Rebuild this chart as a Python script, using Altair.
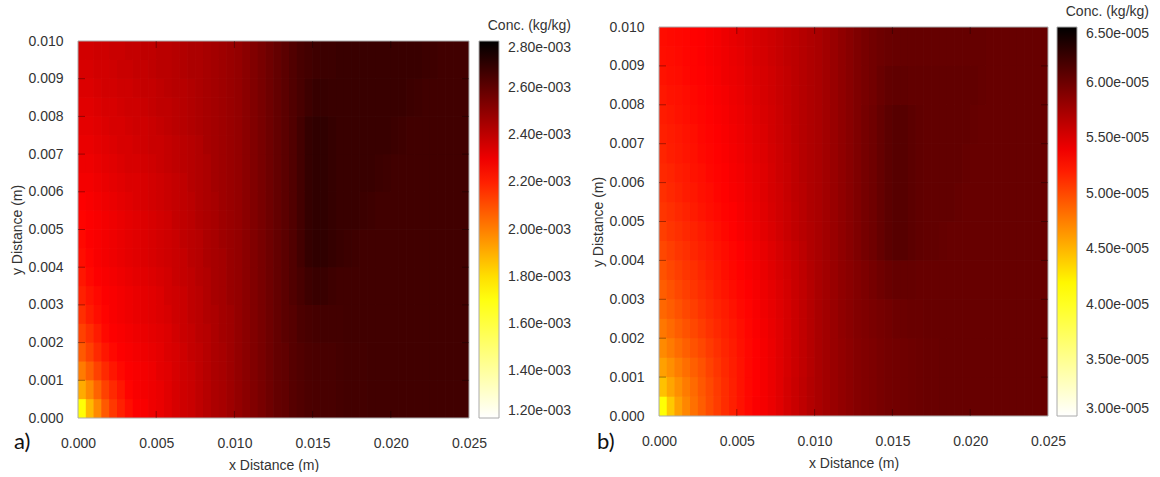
import altair as alt
import pandas as pd

# ---------------- grids (m) ----------------
# left part (x 0 - 0.010): 0.0005 x 0.0005 cells; right part (x 0.010 - 0.025): 0.0005 x 0.001 cells
XL_EDGES = [round(i * 0.0005, 4) for i in range(21)]
YL_EDGES = [round(j * 0.0005, 4) for j in range(21)]
XR_EDGES = [round(0.010 + i * 0.0005, 4) for i in range(31)]
YR_EDGES = [0.0, 0.001, 0.002, 0.003, 0.004, 0.005, 0.006, 0.007, 0.008, 0.009, 0.010]
X_LABELS = [0.000, 0.005, 0.010, 0.015, 0.020, 0.025]
Y_LABELS = [0.000, 0.001, 0.002, 0.003, 0.004, 0.005, 0.006, 0.007, 0.008, 0.009, 0.010]
X_TICKS = [0.005, 0.010, 0.015, 0.020]
Y_TICKS = [0.001, 0.002, 0.003, 0.004, 0.005, 0.006, 0.007, 0.008, 0.009]

# ---------------- panel a: concentration (x 1e-3 kg/kg), rows bottom -> top ----------------
A_LEFT = [
    [1.72, 1.88, 1.98, 2.08, 2.15, 2.20, 2.24, 2.27, 2.28, 2.30, 2.31, 2.33, 2.35, 2.37, 2.38, 2.40, 2.42, 2.44, 2.45, 2.47],
    [1.91, 1.98, 2.06, 2.13, 2.18, 2.22, 2.26, 2.28, 2.29, 2.30, 2.31, 2.33, 2.35, 2.37, 2.38, 2.40, 2.42, 2.44, 2.45, 2.47],
    [2.01, 2.07, 2.13, 2.18, 2.22, 2.25, 2.27, 2.28, 2.29, 2.30, 2.32, 2.33, 2.35, 2.37, 2.38, 2.40, 2.42, 2.44, 2.45, 2.47],
    [2.08, 2.13, 2.18, 2.22, 2.25, 2.27, 2.28, 2.29, 2.30, 2.31, 2.32, 2.34, 2.35, 2.37, 2.39, 2.40, 2.42, 2.44, 2.45, 2.47],
    [2.13, 2.17, 2.21, 2.25, 2.27, 2.28, 2.29, 2.30, 2.31, 2.32, 2.33, 2.34, 2.36, 2.38, 2.39, 2.41, 2.42, 2.44, 2.46, 2.47],
    [2.17, 2.21, 2.24, 2.26, 2.28, 2.29, 2.30, 2.31, 2.32, 2.33, 2.34, 2.35, 2.37, 2.38, 2.40, 2.41, 2.43, 2.44, 2.46, 2.47],
    [2.20, 2.23, 2.25, 2.27, 2.28, 2.29, 2.30, 2.31, 2.32, 2.33, 2.34, 2.36, 2.37, 2.38, 2.40, 2.41, 2.43, 2.45, 2.46, 2.48],
    [2.22, 2.25, 2.27, 2.28, 2.29, 2.30, 2.31, 2.32, 2.33, 2.34, 2.35, 2.36, 2.38, 2.39, 2.40, 2.42, 2.43, 2.45, 2.46, 2.48],
    [2.24, 2.26, 2.28, 2.29, 2.30, 2.31, 2.32, 2.33, 2.34, 2.35, 2.36, 2.37, 2.38, 2.39, 2.41, 2.42, 2.44, 2.45, 2.46, 2.48],
    [2.25, 2.27, 2.28, 2.29, 2.30, 2.31, 2.32, 2.33, 2.34, 2.35, 2.36, 2.37, 2.38, 2.40, 2.41, 2.42, 2.44, 2.45, 2.47, 2.48],
    [2.26, 2.27, 2.28, 2.29, 2.30, 2.31, 2.32, 2.33, 2.34, 2.35, 2.36, 2.37, 2.39, 2.40, 2.41, 2.43, 2.44, 2.45, 2.47, 2.48],
    [2.27, 2.28, 2.29, 2.30, 2.31, 2.32, 2.33, 2.34, 2.35, 2.36, 2.37, 2.38, 2.39, 2.40, 2.41, 2.43, 2.44, 2.45, 2.47, 2.48],
    [2.29, 2.29, 2.30, 2.31, 2.32, 2.33, 2.34, 2.34, 2.35, 2.36, 2.37, 2.38, 2.39, 2.40, 2.42, 2.43, 2.44, 2.46, 2.47, 2.48],
    [2.30, 2.30, 2.31, 2.32, 2.33, 2.34, 2.35, 2.35, 2.36, 2.37, 2.38, 2.39, 2.40, 2.41, 2.42, 2.43, 2.44, 2.46, 2.47, 2.48],
    [2.31, 2.31, 2.32, 2.33, 2.34, 2.35, 2.35, 2.36, 2.37, 2.38, 2.38, 2.39, 2.40, 2.41, 2.42, 2.43, 2.45, 2.46, 2.47, 2.48],
    [2.32, 2.32, 2.33, 2.34, 2.35, 2.35, 2.36, 2.37, 2.37, 2.38, 2.39, 2.40, 2.41, 2.42, 2.43, 2.44, 2.45, 2.46, 2.47, 2.48],
    [2.33, 2.33, 2.34, 2.35, 2.35, 2.36, 2.37, 2.37, 2.38, 2.39, 2.40, 2.40, 2.41, 2.42, 2.43, 2.44, 2.45, 2.46, 2.47, 2.48],
    [2.34, 2.34, 2.35, 2.36, 2.36, 2.37, 2.37, 2.38, 2.39, 2.39, 2.40, 2.41, 2.42, 2.42, 2.43, 2.44, 2.45, 2.46, 2.47, 2.48],
    [2.35, 2.35, 2.36, 2.36, 2.37, 2.38, 2.38, 2.39, 2.39, 2.40, 2.41, 2.41, 2.42, 2.43, 2.44, 2.44, 2.45, 2.46, 2.47, 2.48],
    [2.36, 2.36, 2.37, 2.37, 2.38, 2.38, 2.39, 2.39, 2.40, 2.40, 2.41, 2.41, 2.42, 2.43, 2.44, 2.44, 2.45, 2.46, 2.47, 2.48],
]
A_RIGHT = [
    [2.49, 2.51, 2.53, 2.55, 2.57, 2.59, 2.60, 2.62, 2.63, 2.64, 2.645, 2.65, 2.65, 2.655, 2.66, 2.66, 2.66, 2.665, 2.665, 2.665,
     2.665, 2.665, 2.665, 2.665, 2.665, 2.665, 2.665, 2.665, 2.665, 2.665],
    [2.49, 2.51, 2.53, 2.55, 2.57, 2.59, 2.60, 2.62, 2.63, 2.64, 2.645, 2.65, 2.65, 2.655, 2.66, 2.66, 2.66, 2.665, 2.665, 2.665,
     2.665, 2.665, 2.665, 2.665, 2.665, 2.665, 2.665, 2.665, 2.665, 2.665],
    [2.49, 2.51, 2.53, 2.55, 2.57, 2.59, 2.61, 2.62, 2.64, 2.65, 2.655, 2.66, 2.66, 2.66, 2.665, 2.665, 2.665, 2.665, 2.665, 2.665,
     2.665, 2.665, 2.665, 2.665, 2.665, 2.665, 2.665, 2.665, 2.665, 2.665],
    [2.49, 2.51, 2.53, 2.55, 2.57, 2.59, 2.61, 2.63, 2.65, 2.67, 2.68, 2.68, 2.67, 2.665, 2.665, 2.665, 2.665, 2.665, 2.665, 2.665,
     2.665, 2.665, 2.665, 2.665, 2.665, 2.665, 2.665, 2.665, 2.665, 2.665],
    [2.49, 2.51, 2.53, 2.55, 2.57, 2.59, 2.61, 2.63, 2.66, 2.69, 2.70, 2.70, 2.69, 2.68, 2.675, 2.67, 2.665, 2.665, 2.665, 2.665,
     2.665, 2.665, 2.665, 2.665, 2.665, 2.665, 2.665, 2.665, 2.665, 2.665],
    [2.49, 2.51, 2.53, 2.55, 2.57, 2.59, 2.61, 2.63, 2.66, 2.69, 2.70, 2.70, 2.69, 2.68, 2.68, 2.68, 2.675, 2.67, 2.665, 2.665,
     2.665, 2.665, 2.665, 2.665, 2.665, 2.665, 2.665, 2.665, 2.665, 2.665],
    [2.49, 2.51, 2.53, 2.55, 2.57, 2.59, 2.61, 2.63, 2.66, 2.69, 2.70, 2.70, 2.69, 2.68, 2.68, 2.68, 2.68, 2.68, 2.675, 2.67,
     2.665, 2.665, 2.665, 2.665, 2.665, 2.665, 2.665, 2.665, 2.665, 2.665],
    [2.49, 2.51, 2.53, 2.55, 2.57, 2.59, 2.61, 2.63, 2.66, 2.69, 2.70, 2.70, 2.69, 2.68, 2.68, 2.68, 2.68, 2.68, 2.68, 2.68,
     2.675, 2.67, 2.665, 2.665, 2.665, 2.665, 2.665, 2.665, 2.665, 2.665],
    [2.49, 2.51, 2.53, 2.55, 2.57, 2.59, 2.61, 2.63, 2.65, 2.67, 2.685, 2.685, 2.68, 2.68, 2.68, 2.68, 2.68, 2.68, 2.68, 2.68,
     2.68, 2.68, 2.675, 2.67, 2.665, 2.665, 2.665, 2.665, 2.665, 2.665],
    [2.49, 2.51, 2.53, 2.55, 2.57, 2.59, 2.61, 2.63, 2.65, 2.66, 2.67, 2.675, 2.675, 2.68, 2.68, 2.68, 2.68, 2.68, 2.68, 2.68,
     2.68, 2.68, 2.68, 2.68, 2.675, 2.67, 2.665, 2.665, 2.665, 2.665],
]
A_CDOMAIN = [1.2, 2.8]
A_LEGEND = [1.2, 1.4, 1.6, 1.8, 2.0, 2.2, 2.4, 2.6, 2.8]

# ---------------- panel b: concentration (x 1e-5 kg/kg), rows bottom -> top ----------------
B_LEFT = [
    [4.15, 4.42, 4.60, 4.72, 4.82, 4.91, 4.99, 5.06, 5.13, 5.19, 5.25, 5.30, 5.35, 5.38, 5.42, 5.47, 5.53, 5.58, 5.63, 5.68],
    [4.45, 4.58, 4.68, 4.77, 4.85, 4.93, 5.00, 5.07, 5.13, 5.19, 5.25, 5.30, 5.34, 5.38, 5.42, 5.47, 5.53, 5.58, 5.63, 5.68],
    [4.60, 4.68, 4.76, 4.83, 4.90, 4.96, 5.03, 5.09, 5.15, 5.20, 5.25, 5.30, 5.34, 5.38, 5.42, 5.47, 5.52, 5.57, 5.62, 5.67],
    [4.70, 4.77, 4.84, 4.90, 4.96, 5.01, 5.07, 5.12, 5.17, 5.21, 5.26, 5.30, 5.34, 5.38, 5.42, 5.47, 5.52, 5.57, 5.62, 5.67],
    [4.79, 4.85, 4.91, 4.96, 5.01, 5.06, 5.11, 5.15, 5.19, 5.23, 5.27, 5.31, 5.35, 5.39, 5.43, 5.47, 5.52, 5.57, 5.62, 5.67],
    [4.86, 4.91, 4.96, 5.01, 5.05, 5.10, 5.14, 5.18, 5.21, 5.25, 5.29, 5.32, 5.36, 5.40, 5.44, 5.48, 5.52, 5.57, 5.62, 5.67],
    [4.91, 4.96, 5.01, 5.05, 5.09, 5.13, 5.17, 5.21, 5.24, 5.28, 5.31, 5.34, 5.37, 5.41, 5.45, 5.49, 5.53, 5.58, 5.62, 5.67],
    [4.96, 5.01, 5.05, 5.09, 5.12, 5.16, 5.20, 5.23, 5.27, 5.30, 5.33, 5.36, 5.39, 5.43, 5.47, 5.51, 5.55, 5.59, 5.63, 5.68],
    [5.01, 5.05, 5.09, 5.12, 5.16, 5.19, 5.22, 5.25, 5.28, 5.31, 5.34, 5.37, 5.40, 5.44, 5.48, 5.52, 5.56, 5.60, 5.64, 5.69],
    [5.05, 5.09, 5.12, 5.15, 5.18, 5.21, 5.24, 5.27, 5.30, 5.33, 5.36, 5.39, 5.42, 5.46, 5.50, 5.54, 5.58, 5.62, 5.66, 5.69],
    [5.09, 5.12, 5.15, 5.18, 5.21, 5.24, 5.27, 5.29, 5.32, 5.34, 5.37, 5.40, 5.43, 5.47, 5.51, 5.55, 5.58, 5.62, 5.66, 5.70],
    [5.12, 5.15, 5.18, 5.21, 5.23, 5.26, 5.28, 5.31, 5.33, 5.36, 5.38, 5.41, 5.44, 5.48, 5.52, 5.55, 5.59, 5.63, 5.66, 5.70],
    [5.15, 5.17, 5.20, 5.22, 5.25, 5.27, 5.30, 5.32, 5.34, 5.37, 5.39, 5.42, 5.45, 5.48, 5.52, 5.56, 5.59, 5.63, 5.67, 5.70],
    [5.17, 5.20, 5.22, 5.24, 5.26, 5.29, 5.31, 5.33, 5.35, 5.38, 5.40, 5.43, 5.46, 5.49, 5.53, 5.56, 5.60, 5.63, 5.67, 5.70],
    [5.19, 5.21, 5.23, 5.25, 5.27, 5.30, 5.32, 5.34, 5.36, 5.39, 5.41, 5.44, 5.47, 5.50, 5.54, 5.57, 5.60, 5.64, 5.67, 5.70],
    [5.21, 5.23, 5.25, 5.27, 5.29, 5.31, 5.33, 5.35, 5.37, 5.40, 5.42, 5.45, 5.48, 5.51, 5.54, 5.57, 5.61, 5.64, 5.67, 5.70],
    [5.23, 5.25, 5.26, 5.28, 5.30, 5.32, 5.34, 5.36, 5.38, 5.41, 5.43, 5.46, 5.49, 5.52, 5.55, 5.58, 5.61, 5.64, 5.67, 5.70],
    [5.25, 5.27, 5.28, 5.30, 5.32, 5.33, 5.35, 5.37, 5.40, 5.42, 5.44, 5.47, 5.50, 5.52, 5.55, 5.58, 5.61, 5.64, 5.67, 5.70],
    [5.27, 5.28, 5.29, 5.31, 5.32, 5.34, 5.36, 5.38, 5.40, 5.43, 5.45, 5.48, 5.51, 5.53, 5.56, 5.59, 5.62, 5.64, 5.67, 5.70],
    [5.28, 5.29, 5.30, 5.31, 5.33, 5.34, 5.36, 5.38, 5.41, 5.44, 5.46, 5.49, 5.51, 5.54, 5.56, 5.59, 5.62, 5.64, 5.67, 5.70],
]
B_RIGHT = [
    [5.72, 5.76, 5.80, 5.83, 5.86, 5.89, 5.91, 5.93, 5.95, 5.97, 5.98, 5.99, 6.00, 6.01, 6.02, 6.02, 6.03, 6.03, 6.03, 6.03,
     6.03, 6.03, 6.03, 6.03, 6.03, 6.03, 6.03, 6.03, 6.03, 6.03],
    [5.72, 5.76, 5.80, 5.83, 5.86, 5.89, 5.91, 5.93, 5.95, 5.97, 5.98, 5.99, 6.00, 6.01, 6.02, 6.02, 6.03, 6.03, 6.03, 6.03,
     6.03, 6.03, 6.03, 6.03, 6.03, 6.03, 6.03, 6.03, 6.03, 6.03],
    [5.72, 5.76, 5.80, 5.84, 5.87, 5.90, 5.92, 5.94, 5.96, 5.98, 6.00, 6.01, 6.02, 6.02, 6.03, 6.03, 6.03, 6.03, 6.03, 6.03,
     6.03, 6.03, 6.03, 6.03, 6.03, 6.03, 6.03, 6.03, 6.03, 6.03],
    [5.72, 5.76, 5.80, 5.84, 5.87, 5.90, 5.93, 5.96, 5.99, 6.02, 6.04, 6.04, 6.04, 6.03, 6.03, 6.03, 6.03, 6.03, 6.03, 6.03,
     6.03, 6.03, 6.03, 6.03, 6.03, 6.03, 6.03, 6.03, 6.03, 6.03],
    [5.72, 5.76, 5.80, 5.84, 5.88, 5.92, 5.96, 5.99, 6.04, 6.08, 6.10, 6.10, 6.08, 6.06, 6.05, 6.05, 6.04, 6.03, 6.03, 6.03,
     6.03, 6.03, 6.03, 6.03, 6.03, 6.03, 6.03, 6.03, 6.03, 6.03],
    [5.72, 5.76, 5.80, 5.84, 5.88, 5.92, 5.96, 5.99, 6.04, 6.08, 6.10, 6.10, 6.08, 6.06, 6.05, 6.05, 6.05, 6.05, 6.04, 6.03,
     6.03, 6.03, 6.03, 6.03, 6.03, 6.03, 6.03, 6.03, 6.03, 6.03],
    [5.72, 5.76, 5.80, 5.84, 5.88, 5.92, 5.96, 5.99, 6.04, 6.08, 6.10, 6.10, 6.08, 6.06, 6.05, 6.05, 6.05, 6.05, 6.05, 6.04,
     6.03, 6.03, 6.03, 6.03, 6.03, 6.03, 6.03, 6.03, 6.03, 6.03],
    [5.72, 5.76, 5.80, 5.84, 5.88, 5.92, 5.96, 5.99, 6.04, 6.08, 6.10, 6.10, 6.08, 6.06, 6.05, 6.05, 6.05, 6.05, 6.05, 6.05,
     6.04, 6.03, 6.03, 6.03, 6.03, 6.03, 6.03, 6.03, 6.03, 6.03],
    [5.72, 5.76, 5.80, 5.84, 5.88, 5.92, 5.95, 5.98, 6.02, 6.05, 6.06, 6.06, 6.05, 6.05, 6.05, 6.05, 6.05, 6.05, 6.05, 6.05,
     6.05, 6.04, 6.03, 6.03, 6.03, 6.03, 6.03, 6.03, 6.03, 6.03],
    [5.72, 5.76, 5.80, 5.84, 5.88, 5.92, 5.95, 5.98, 6.00, 6.02, 6.03, 6.04, 6.04, 6.04, 6.04, 6.04, 6.04, 6.04, 6.04, 6.04,
     6.04, 6.04, 6.03, 6.03, 6.03, 6.03, 6.03, 6.03, 6.03, 6.03],
]
B_CDOMAIN = [3.0, 6.5]
B_LEGEND = [3.0, 3.5, 4.0, 4.5, 5.0, 5.5, 6.0, 6.5]

HOT = ["#ffffff", "#ffff00", "#ff0000", "#000000"]
FONT = "Liberation Sans"
TXT = "#333333"
FRAME = "#aaaaaa"


def cells(rows, xe, ye, factor):
    out = []
    for j, row in enumerate(rows):
        for i, v in enumerate(row):
            out.append(dict(x0=xe[i], x1=xe[i + 1], y0=ye[j], y1=ye[j + 1], c=v * factor))
    return out


def panel(left_rows, right_rows, factor, cdomain, legend_vals, w, ph, top, lx, tag, tag_x, tag_y):
    vh = ph + top  # view height; plot occupies [top, vh]
    df = pd.DataFrame(cells(left_rows, XL_EDGES, YL_EDGES, factor) + cells(right_rows, XR_EDGES, YR_EDGES, factor))
    cscale = alt.Scale(domain=[d * factor for d in cdomain], range=HOT, interpolate="rgb")
    xs = alt.Scale(domain=[0, 0.025], nice=False, zero=False)
    ys = alt.Scale(domain=[0, 0.010], nice=False, zero=False, range=[vh, top])
    xax = alt.Axis(values=X_LABELS, format=".3f", title="x Distance (m)", labelPadding=18, titlePadding=8,
                   labelFlush=False)
    yax = alt.Axis(values=Y_LABELS, format=".3f", title="y Distance (m)", labelPadding=15, titlePadding=3,
                   labelFlush=False, titleY=top + ph / 2)

    heat = alt.Chart(df).mark_rect().encode(
        x=alt.X("x0:Q", scale=xs, axis=xax),
        x2="x1:Q",
        y=alt.Y("y0:Q", scale=ys, axis=yax),
        y2="y1:Q",
        color=alt.Color("c:Q", scale=cscale, legend=alt.Legend(
            type="gradient",
            title="Conc. (kg/kg)", orient="none", legendX=lx, legendY=top - 22, direction="vertical",
            gradientLength=ph, gradientThickness=20, values=[v * factor for v in legend_vals],
            labelExpr="replace(format(datum.value, '.2e'), 'e-', 'e-00')",
            labelOffset=9, labelOverlap=False,
            titleAnchor="end", titlePadding=8,
            gradientStrokeColor=FRAME, gradientStrokeWidth=1)),
    )

    framedf = pd.DataFrame({"x0": [X_LABELS[0]], "x1": [X_LABELS[-1]], "y0": [Y_LABELS[0]], "y1": [Y_LABELS[-1]]})
    frame = alt.Chart(framedf).mark_rect(filled=False, stroke=FRAME, strokeWidth=1).encode(
        x=alt.X("x0:Q", scale=xs, axis=xax), x2="x1:Q",
        y=alt.Y("y0:Q", scale=ys, axis=yax), y2="y1:Q")

    ydf = pd.DataFrame({"t": Y_TICKS})
    xdf = pd.DataFrame({"t": X_TICKS})
    tick_style = dict(color="#000000", opacity=0.35, strokeWidth=1)
    left_t = alt.Chart(ydf).mark_rule(**tick_style).encode(
        y=alt.Y("t:Q", scale=ys, axis=yax), x=alt.value(0), x2=alt.value(7))
    right_t = alt.Chart(ydf).mark_rule(**tick_style).encode(
        y=alt.Y("t:Q", scale=ys, axis=yax), x=alt.value(w - 7), x2=alt.value(w))
    top_t = alt.Chart(xdf).mark_rule(**tick_style).encode(
        x=alt.X("t:Q", scale=xs, axis=xax), y=alt.value(top), y2=alt.value(top + 7))
    bot_t = alt.Chart(xdf).mark_rule(**tick_style).encode(
        x=alt.X("t:Q", scale=xs, axis=xax), y=alt.value(vh - 7), y2=alt.value(vh))

    tagdf = pd.DataFrame({"t": [tag]})
    tag_txt = alt.Chart(tagdf).mark_text(font="Lato", fontSize=22, align="left", baseline="middle",
                                         color="#111111").encode(
        text="t:N", x=alt.value(tag_x), y=alt.value(vh + tag_y))
    # heat drawn three times so anti-aliasing seams between neighbouring cells disappear
    return alt.layer(heat, heat, heat, frame, left_t, right_t, top_t, bot_t, tag_txt).properties(width=w, height=vh)


pa = panel(A_LEFT, A_RIGHT, 1e-3, A_CDOMAIN, A_LEGEND, 391, 377, 14, 401, "a)", -64, 24)
pb = panel(B_LEFT, B_RIGHT, 1e-5, B_CDOMAIN, B_LEGEND, 389, 389, 0, 398, "b)", -62, 26)

chart = alt.hconcat(pa, pb, spacing=19).resolve_scale(
    color="independent", x="independent", y="independent"
).properties(
    padding={"left": 10, "top": 5, "right": 0, "bottom": 0}
).configure_view(
    stroke=None
).configure_axis(
    grid=False, domain=False, ticks=False,
    labelFont=FONT, labelFontSize=14, labelColor=TXT,
    titleFont=FONT, titleFontSize=14, titleFontWeight="normal", titleColor=TXT,
).configure_legend(
    labelFont=FONT, labelFontSize=14, labelColor=TXT,
    titleFont=FONT, titleFontSize=14, titleFontWeight="normal", titleColor=TXT,
)

chart.save("out.html", embed_options={"renderer": "svg", "actions": False})
